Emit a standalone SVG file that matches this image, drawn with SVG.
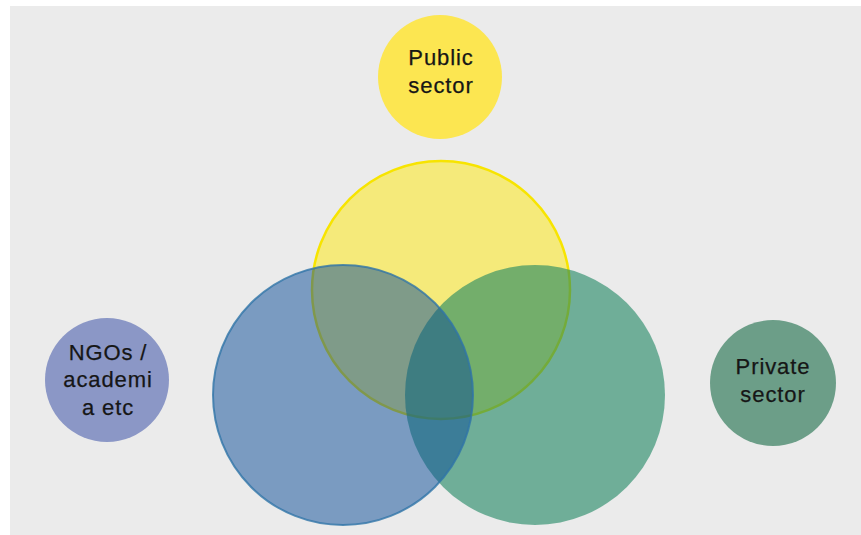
<svg xmlns="http://www.w3.org/2000/svg" width="861" height="535" viewBox="0 0 861 535">
<style>
  .lbl { font-family: "Liberation Sans", Arial, sans-serif; font-size: 22px; letter-spacing: 0.9px; fill: #161616; text-anchor: middle; stroke: #161616; stroke-width: 0.25px; }
</style>
<rect x="0" y="0" width="861" height="535" fill="#ffffff"/>
<rect x="10" y="6" width="851" height="529" fill="#ebebeb"/>
<g id="venn">
  <g id="venn-public">
    <circle cx="441" cy="290" r="129" fill="#ffe909" fill-opacity="0.5" stroke="#f7e400" stroke-width="2.5"/>
  </g>
  <g id="venn-private">
    <circle cx="535" cy="395" r="130" fill="#1c8560" fill-opacity="0.6"/>
  </g>
  <g id="venn-ngo">
    <circle cx="343" cy="395" r="130" fill="#094b97" fill-opacity="0.5" stroke="#2f74a8" stroke-width="2" stroke-opacity="0.8"/>
  </g>
</g>
<g id="public-sector">
  <circle cx="440" cy="77" r="62" fill="#fce651"/>
  <text class="lbl" x="441" y="65">Public</text>
  <text class="lbl" x="441" y="93">sector</text>
</g>
<g id="ngos">
  <circle cx="107" cy="380" r="62" fill="#8b97c6"/>
  <text class="lbl" x="108" y="360">NGOs /</text>
  <text class="lbl" x="108" y="387">academi</text>
  <text class="lbl" x="108" y="415">a etc</text>
</g>
<g id="private-sector">
  <circle cx="773" cy="383" r="63" fill="#6c9e88"/>
  <text class="lbl" x="773" y="374">Private</text>
  <text class="lbl" x="773" y="402">sector</text>
</g>
</svg>
